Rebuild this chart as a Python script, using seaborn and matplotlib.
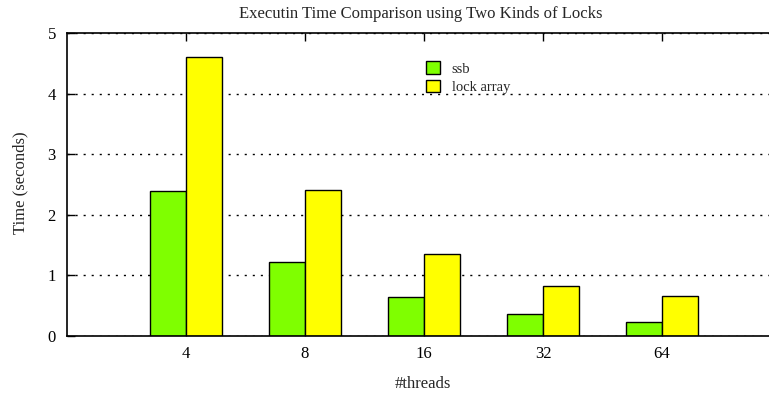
import matplotlib
matplotlib.use("Agg")
import matplotlib.pyplot as plt
import seaborn as sns
import pandas as pd
from matplotlib.patches import Patch

threads = ["4", "8", "16", "32", "64"]
ssb = [2.39, 1.22, 0.64, 0.36, 0.225]
lock_array = [4.60, 2.41, 1.35, 0.82, 0.655]
series_names = ["ssb", "lock array"]
colors = ["#7fff00", "#ffff00"]

df = pd.DataFrame({
    "threads": threads * 2,
    "time": ssb + lock_array,
    "kind": [series_names[0]] * len(threads) + [series_names[1]] * len(threads),
})

sns.set_style("white")
plt.rcParams["font.family"] = ["Liberation Serif", "DejaVu Serif"]
plt.rcParams["font.size"] = 12

W, H = 769, 395
fig = plt.figure(figsize=(W / 100, H / 100), dpi=100)
ax = fig.add_axes([67 / W, 1 - 336 / H, (781 - 67) / W, (336 - 33) / H])

sns.barplot(data=df, x="threads", y="time", hue="kind", order=threads,
            hue_order=series_names, palette=colors, width=0.6, gap=0,
            edgecolor="black", linewidth=1.0, saturation=1, ax=ax, legend=False)

ax.set_xlim(-1, 5)
ax.set_ylim(0, 5)
ax.set_yticks([0, 1, 2, 3, 4, 5])
ax.set_axisbelow(True)
ax.yaxis.grid(True, color="black", linestyle=(0, (1.5, 4.3)), linewidth=1.0)
ax.xaxis.grid(False)

for s in ax.spines.values():
    s.set_color("black")
    s.set_linewidth(1.2)
ax.tick_params(axis="both", direction="in", length=6, width=1, color="black",
               labelsize=12, labelcolor="black", top=True, right=True,
               bottom=True, left=True)
ax.tick_params(axis="x", pad=7)
ax.tick_params(axis="y", pad=8)
ax.set_xlabel("")
ax.set_ylabel("")

fig.text(20 / W, 1 - 183 / H, "Time (seconds)", rotation=90, ha="center",
         va="center", fontsize=12)
fig.text(423 / W, 1 - 384 / H, "#threads", ha="center", va="center", fontsize=12)
fig.text(421 / W, 1 - 14 / H, "Executin Time Comparison using Two Kinds of Locks",
         ha="center", va="center", fontsize=12)

handles = [Patch(facecolor=c, edgecolor="black", linewidth=1.0) for c in colors]
fig.legend(handles, series_names, loc="upper left",
           bbox_to_anchor=(416 / W, 1 - 51 / H), frameon=False, fontsize=10.5,
           handlelength=0.95, handleheight=0.95, handletextpad=0.8,
           labelspacing=0.28, borderpad=0.2)

fig.savefig("out.png", dpi=100)
